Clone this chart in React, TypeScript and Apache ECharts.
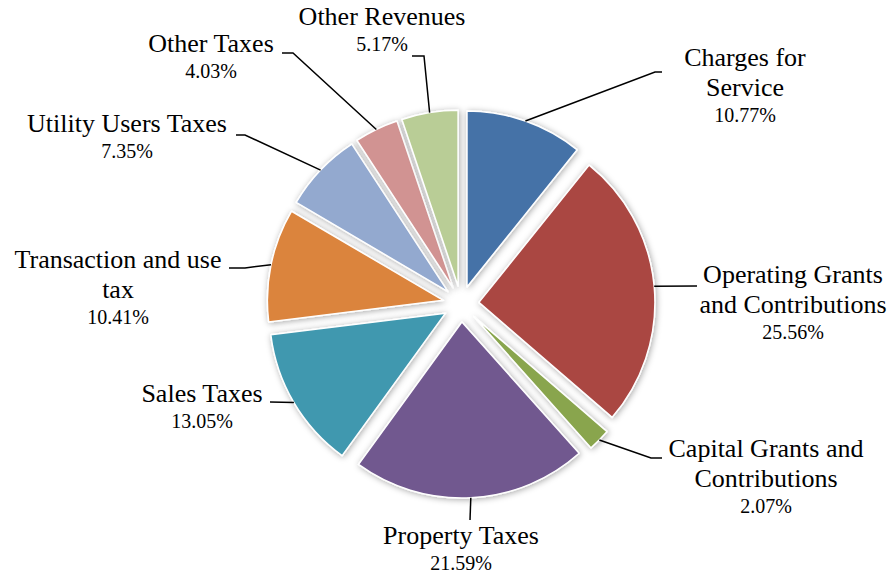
import React, { useEffect, useRef } from "react";
import * as echarts from "echarts";

const categories = [
  "Charges for Service",
  "Operating Grants and Contributions",
  "Capital Grants and Contributions",
  "Property Taxes",
  "Sales Taxes",
  "Transaction and use tax",
  "Utility Users Taxes",
  "Other Taxes",
  "Other Revenues",
];
const shares = [10.77, 25.56, 2.07, 21.59, 13.05, 10.41, 7.35, 4.03, 5.17];

// how each category name wraps in the label
const nameLines = [
  ["Charges for", "Service"],
  ["Operating Grants", "and Contributions"],
  ["Capital Grants and", "Contributions"],
  ["Property Taxes"],
  ["Sales Taxes"],
  ["Transaction and use", "tax"],
  ["Utility Users Taxes"],
  ["Other Taxes"],
  ["Other Revenues"],
];

const colors = [
  "#4572A7",
  "#AA4643",
  "#89A54E",
  "#71588F",
  "#4198AF",
  "#DB843D",
  "#93A9CF",
  "#D19392",
  "#B9CD96",
];

// ---- layout (not data) ----
const CX = 461;
const CY = 304;
const R = 176;
const OFF = 18;
// label block: centre x, top y
const labelAnchors: [number, number][] = [
  [745, 42],
  [793, 259],
  [766, 433],
  [461, 520],
  [202, 378],
  [118, 244],
  [127, 108],
  [211, 28],
  [382, 1],
];
// leader line points after the slice's outer mid-point
const leaderTails: [number, number][][] = [
  [[655, 72], [662, 72]],
  [[697, 286]],
  [[651, 458], [662, 458]],
  [[470, 520]],
  [[270, 402]],
  [[245, 268], [229, 268]],
  [[245, 135], [236, 135]],
  [[293, 53], [282, 53]],
  [[424, 56], [412, 56]],
];

export default function App() {
  const ref = useRef<HTMLDivElement>(null);
  useEffect(() => {
    document.body.style.margin = "0";
    if (!ref.current) return;
    const chart = echarts.init(ref.current, null, { renderer: "svg" });
    const font = "'Liberation Serif', 'Times New Roman', serif";

    const total = shares.reduce((a, b) => a + b, 0);
    let acc = 0;
    const graphics: any[] = [];
    shares.forEach((v, i) => {
      const mid = ((acc + v / 2) / total) * Math.PI * 2;
      acc += v;
      const sx = CX + (R + OFF) * Math.sin(mid);
      const sy = CY - (R + OFF) * Math.cos(mid);
      graphics.push({
        type: "polyline",
        silent: true,
        z: 10,
        shape: { points: [[sx, sy], ...leaderTails[i]] },
        style: { stroke: "#000", lineWidth: 1.5, fill: null },
      });
      const text =
        nameLines[i].map((l) => `{n|${l}}`).join("\n") + `\n{p|${v.toFixed(2)}%}`;
      graphics.push({
        type: "text",
        silent: true,
        z: 10,
        x: labelAnchors[i][0],
        y: labelAnchors[i][1],
        style: {
          text,
          align: "center",
          verticalAlign: "top",
          fill: "#000",
          fontFamily: font,
          rich: {
            n: { fontFamily: font, fontSize: 26, lineHeight: 30, fill: "#000", align: "center" },
            p: { fontFamily: font, fontSize: 20, lineHeight: 26, fill: "#000", align: "center" },
          },
        },
      });
    });

    chart.setOption({
      animation: false,
      backgroundColor: "#ffffff",
      graphic: graphics,
      series: [
        {
          type: "pie",
          center: [CX, CY],
          radius: R,
          startAngle: 90,
          clockwise: true,
          selectedMode: "multiple",
          selectedOffset: OFF,
          emphasis: { disabled: true },
          itemStyle: {
            borderColor: "#ffffff",
            borderWidth: 1.5,
            shadowBlur: 6,
            shadowColor: "rgba(0,0,0,0.35)",
            shadowOffsetX: 1,
            shadowOffsetY: 1,
          },
          label: { show: false },
          labelLine: { show: false },
          data: categories.map((name, i) => ({
            name,
            value: shares[i],
            selected: true,
            itemStyle: { color: colors[i] },
          })),
        },
      ],
    });
    return () => chart.dispose();
  }, []);
  return <div ref={ref} style={{ width: 894, height: 578 }} />;
}
